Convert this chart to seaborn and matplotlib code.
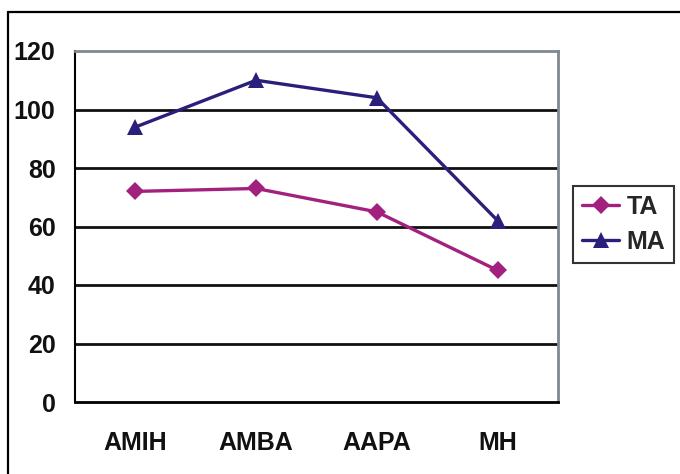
import matplotlib
matplotlib.use("Agg")
import matplotlib.pyplot as plt
from matplotlib.lines import Line2D
import seaborn as sns
import pandas as pd

categories = ["AMIH", "AMBA", "AAPA", "MH"]
ta_values = [72, 73, 65, 45]
ma_values = [94, 110, 104, 62]
series_names = ["TA", "MA"]
y_ticks = [0, 20, 40, 60, 80, 100, 120]

sns.set_theme(style="white")
plt.rcParams["font.family"] = ["Liberation Sans", "DejaVu Sans"]
plt.rcParams["font.weight"] = "bold"

df = pd.DataFrame({
    "cat": categories * 2,
    "pos": list(range(len(categories))) * 2,
    "val": ta_values + ma_values,
    "series": [series_names[0]] * len(categories) + [series_names[1]] * len(categories),
})

TA_COL = "#A3217E"
MA_COL = "#2B1F7C"
FS = 18

fig = plt.figure(figsize=(6.8, 4.74), dpi=100)
ax = fig.add_axes([75 / 680, 1 - 402 / 474, (558 - 75) / 680, (402 - 51) / 474])

sns.lineplot(data=df, x="pos", y="val", hue="series", style="series",
             palette={"TA": TA_COL, "MA": MA_COL},
             markers={"TA": "D", "MA": "^"}, dashes=False,
             markersize=9.5, linewidth=2.4, markeredgewidth=0,
             sort=False, legend=False, ax=ax)
for ln in ax.get_lines():
    if ln.get_marker() == "^":
        ln.set_markersize(11.5)

ax.set_xlim(-0.5, len(categories) - 0.5)
ax.set_ylim(0, 120)
ax.set_yticks(y_ticks)
ax.set_yticklabels([str(t) for t in y_ticks], fontsize=FS, fontweight="bold")
ax.set_xticks([i - 0.5 for i in range(len(categories) + 1)])
ax.set_xticklabels([])
ax.set_xticks(range(len(categories)), minor=True)
ax.set_xticklabels(categories, minor=True, fontsize=FS, fontweight="bold")
ax.tick_params(axis="x", which="minor", length=0, pad=21)
ax.tick_params(axis="x", which="major", length=7, width=1.5, color="black", direction="out")
ax.tick_params(axis="y", length=7, width=1.5, color="black", direction="out", pad=7)
for lab in ax.get_yticklabels() + ax.get_xticklabels(minor=True):
    lab.set_color("#111111")
ax.set_xlabel("")
ax.set_ylabel("")

for y in y_ticks[1:-1]:
    ax.axhline(y, color="#111111", lw=2.0, zorder=1)

ax.spines["left"].set_color("black")
ax.spines["left"].set_linewidth(1.5)
ax.spines["bottom"].set_color("black")
ax.spines["bottom"].set_linewidth(2.0)
ax.spines["top"].set_color("#808890")
ax.spines["top"].set_linewidth(2.0)
ax.spines["right"].set_color("#808890")
ax.spines["right"].set_linewidth(2.0)
for s in ax.spines.values():
    s.set_visible(True)

handles = [
    Line2D([], [], color=TA_COL, lw=2.4, marker="D", markersize=9.5, markeredgewidth=0),
    Line2D([], [], color=MA_COL, lw=2.4, marker="^", markersize=11.5, markeredgewidth=0),
]
leg = fig.legend(handles, series_names, loc="upper left",
                 bbox_to_anchor=(573 / 680, 1 - 186 / 474),
                 prop={"family": "Liberation Sans", "weight": "bold", "size": FS},
                 frameon=True, fancybox=False, handlelength=1.5, handletextpad=0.3,
                 borderpad=0.35, labelspacing=0.45, borderaxespad=0)
leg.get_frame().set_edgecolor("black")
leg.get_frame().set_linewidth(1.5)

fig.add_artist(Line2D([7.5 / 680, 7.5 / 680], [0, 1 - 12 / 474], color="black", lw=1.6,
                      transform=fig.transFigure))
fig.add_artist(Line2D([7.5 / 680, 1], [1 - 12 / 474, 1 - 12 / 474], color="black", lw=1.6,
                      transform=fig.transFigure))

fig.savefig("out.png", dpi=100)
